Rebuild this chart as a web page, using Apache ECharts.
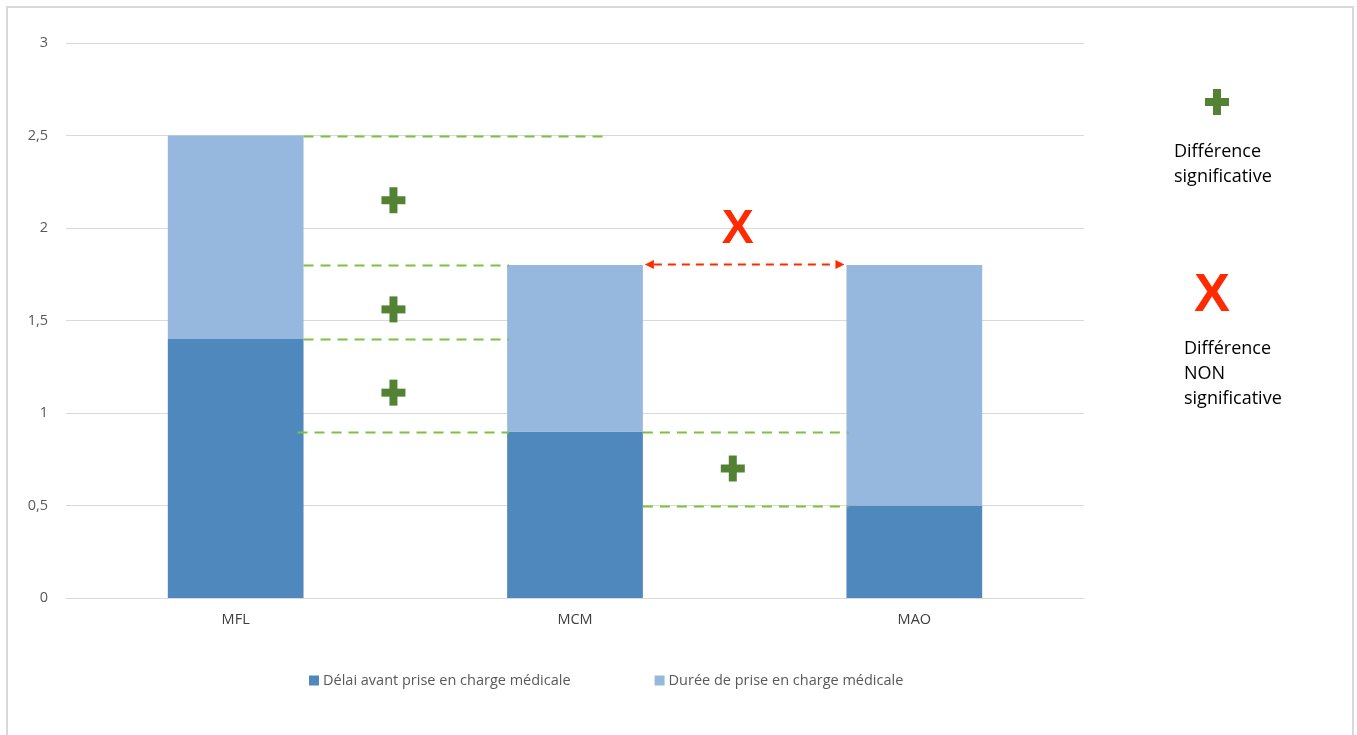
<!DOCTYPE html>
<html>
<head>
<meta charset="utf-8">
<script src="https://cdn.jsdelivr.net/npm/echarts@6/dist/echarts.min.js"></script>
<style>
  html, body { margin: 0; padding: 0; background: #fff; }
  #chart { width: 1357px; height: 735px; }
</style>
</head>
<body>
<div id="chart"></div>
<script>
// Groupes comparés
const categories = ['MFL', 'MCM', 'MAO'];
// Délai avant prise en charge médicale
const delai = [1.4, 0.9, 0.5];
// Durée de prise en charge médicale
const duree = [1.1, 0.9, 1.3];
// Graduations de l'axe des valeurs
const yTicks = { min: 0, max: 3, interval: 0.5 };

// Comparaisons significatives : [groupe de départ, groupe d'arrivée, niveau]
const comparaisonsSignif = [
  ['MFL', 'MCM', 2.5],
  ['MFL', 'MCM', 1.8],
  ['MFL', 'MCM', 1.4],
  ['MFL', 'MAO', 0.9],
  ['MCM', 'MAO', 0.5]
];
// Comparaisons non significatives
const comparaisonsNonSignif = [
  ['MCM', 'MAO', 1.8]
];
// Signes « + » placés entre deux groupes : [groupe de gauche, niveau]
const signesPlus = [
  ['MFL', 2.15],
  ['MFL', 1.56],
  ['MFL', 1.11],
  ['MCM', 0.70]
];

const idx = name => categories.indexOf(name);
const totals = categories.map((_, i) => delai[i] + duree[i]);

const GREEN_LINE = '#7cc142';
const GREEN_SIGN = '#548235';
const RED = '#ff2a00';
const BAR_RATIO = 0.4;
const FONT = '"Open Sans", "Noto Sans", sans-serif';

function plusShape(cx, cy) {
  return {
    type: 'group',
    children: [
      { type: 'rect', shape: { x: cx - 12, y: cy - 4, width: 24, height: 8 }, style: { fill: GREEN_SIGN } },
      { type: 'rect', shape: { x: cx - 4, y: cy - 13, width: 8, height: 26 }, style: { fill: GREEN_SIGN } }
    ]
  };
}

const chart = echarts.init(document.getElementById('chart'), null, { renderer: 'canvas' });

const option = {
  backgroundColor: '#ffffff',
  animation: false,
  textStyle: { fontFamily: FONT },
  grid: { left: 66, right: 273, top: 43, bottom: 137, containLabel: false },
  xAxis: {
    type: 'category',
    data: categories,
    axisLine: { lineStyle: { color: '#d9d9d9', width: 1 } },
    axisTick: { show: false },
    axisLabel: { color: '#404040', fontSize: 14.5, margin: 14 }
  },
  yAxis: {
    type: 'value',
    min: yTicks.min,
    max: yTicks.max,
    interval: yTicks.interval,
    axisLine: { show: false },
    axisTick: { show: false },
    splitLine: { lineStyle: { color: '#d9d9d9', width: 1 } },
    axisLabel: {
      color: '#595959',
      fontSize: 14.5,
      margin: 18,
      formatter: v => String(v).replace('.', ',')
    }
  },
  legend: {
    data: ['Délai avant prise en charge médicale', 'Durée de prise en charge médicale'],
    left: 304,
    top: 668,
    itemWidth: 10,
    itemHeight: 10,
    itemGap: 84,
    icon: 'rect',
    textStyle: { color: '#595959', fontSize: 14.5, padding: [0, 0, 0, -1] }
  },
  series: [
    {
      name: 'Délai avant prise en charge médicale',
      type: 'bar',
      stack: 'total',
      barWidth: '40%',
      z: 2,
      itemStyle: { color: '#4f88bc' },
      data: delai
    },
    {
      name: 'Durée de prise en charge médicale',
      type: 'bar',
      stack: 'total',
      barWidth: '40%',
      z: 2,
      itemStyle: { color: '#97b8de' },
      data: duree
    },
    {
      // Lignes pointillées vertes reliant les niveaux comparés,
      // interrompues au passage des barres intermédiaires
      type: 'custom',
      name: 'comparaisons',
      z: 3,
      silent: true,
      encode: { x: 0, y: 2 },
      data: comparaisonsSignif.map(c => [idx(c[0]), idx(c[1]), c[2]]),
      renderItem: (params, api) => {
        const a = api.value(0), b = api.value(1), v = api.value(2);
        const band = api.size([1, 0])[0];
        const half = band * BAR_RATIO / 2;
        const y = Math.round(api.coord([a, v])[1]) + 0.5;
        const style = { stroke: GREEN_LINE, lineWidth: 2, lineDash: [10, 7] };
        const children = [];
        for (let i = a; i < b; i++) {
          let x1 = api.coord([i, v])[0] + half;
          const pNext = api.coord([i + 1, v])[0];
          let x2 = pNext - half + 2;
          if (b - a > 1 && i === a) x1 -= 6;
          if (i + 1 === b && v > totals[b]) x2 = pNext + band * 0.1;
          children.push({ type: 'line', shape: { x1, y1: y, x2, y2: y }, style });
        }
        return { type: 'group', children };
      }
    },
    {
      // Signes « + » : différence significative
      type: 'custom',
      name: 'signes',
      z: 3,
      silent: true,
      encode: { x: 0, y: 1 },
      data: signesPlus.map(s => [idx(s[0]), s[1]]),
      renderItem: (params, api) => {
        const band = api.size([1, 0])[0];
        const p = api.coord([api.value(0), api.value(1)]);
        return plusShape(p[0] + band * 0.465, p[1]);
      }
    },
    {
      // Flèche rouge et « X » : différence non significative
      type: 'custom',
      name: 'nonSignif',
      z: 3,
      silent: true,
      encode: { x: 0, y: 2 },
      data: comparaisonsNonSignif.map(c => [idx(c[0]), idx(c[1]), c[2]]),
      renderItem: (params, api) => {
        const a = api.value(0), b = api.value(1), v = api.value(2);
        const band = api.size([1, 0])[0];
        const half = band * BAR_RATIO / 2;
        const p1 = api.coord([a, v]);
        const p2 = api.coord([b, v]);
        const x1 = p1[0] + half + 2;
        const x2 = p2[0] - half - 2;
        const y = Math.round(p1[1]) - 0.5;
        const head = 9, hw = 4.5;
        const mid = (x1 + x2) / 2;
        return {
          type: 'group',
          children: [
            {
              type: 'line',
              shape: { x1: x1 + head, y1: y, x2: x2 - head, y2: y },
              style: { stroke: RED, lineWidth: 2, lineDash: [8, 6] }
            },
            {
              type: 'polygon',
              shape: { points: [[x1, y], [x1 + head, y - hw], [x1 + head, y + hw]] },
              style: { fill: RED }
            },
            {
              type: 'polygon',
              shape: { points: [[x2, y], [x2 - head, y - hw], [x2 - head, y + hw]] },
              style: { fill: RED }
            },
            {
              type: 'text',
              x: mid - 7,
              y: y - 35,
              style: {
                text: 'X',
                fill: RED,
                font: 'bold 48px "Liberation Sans", Arial, sans-serif',
                align: 'center',
                verticalAlign: 'middle'
              }
            }
          ]
        };
      }
    }
  ],
  graphic: [
    {
      type: 'rect',
      silent: true,
      shape: { x: 7, y: 7, width: 1346, height: 750 },
      style: { fill: 'none', stroke: '#d9d9d9', lineWidth: 2 }
    },
    Object.assign(plusShape(1217, 102), { silent: true }),
    {
      type: 'text',
      left: 1174,
      top: 139,
      style: {
        text: 'Différence\nsignificative',
        fill: '#000000',
        font: '18px ' + FONT,
        lineHeight: 25
      }
    },
    {
      type: 'text',
      x: 1212,
      y: 296,
      style: {
        text: 'X',
        fill: RED,
        font: 'bold 54px "Liberation Sans", Arial, sans-serif',
        align: 'center',
        verticalAlign: 'middle'
      }
    },
    {
      type: 'text',
      left: 1184,
      top: 336,
      style: {
        text: 'Différence\nNON\nsignificative',
        fill: '#000000',
        font: '18px ' + FONT,
        lineHeight: 25
      }
    }
  ]
};

chart.setOption(option);
</script>
</body>
</html>
